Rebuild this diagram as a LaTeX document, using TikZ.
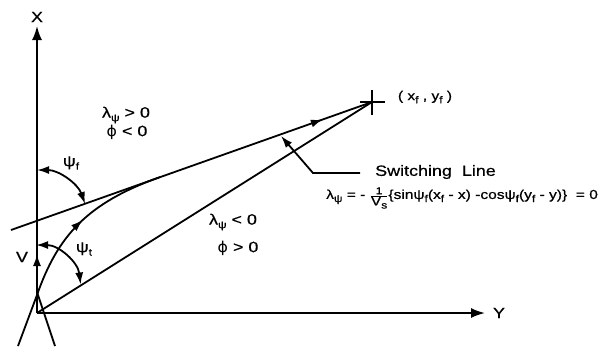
\documentclass[tikz,border=0pt]{standalone}
\usepackage{fontspec}
\setmainfont{Liberation Sans}[FakeStretch=1.2,FakeBold=0.6]
\newfontfamily\phifont{DejaVu Sans}[FakeStretch=1.05]
\usetikzlibrary{arrows.meta,decorations.markings}
\newcommand\sbs[1]{\raisebox{-0.45ex}{\fontsize{10}{10}\selectfont #1}}
\newcommand\myphi{{\phifont ϕ}}
\begin{document}
\begin{tikzpicture}[x=1bp,y=-1bp,
  ln/.style={line width=1.8bp},
  axis/.style={ln,-{Latex[length=14bp,width=10bp]}},
  tipone/.style={ln,-{Latex[length=12bp,width=8bp]}},
  tiptwo/.style={ln,{Latex[length=12bp,width=8bp]}-{Latex[length=12bp,width=8bp]}},
  midarrow/.style={postaction={decorate},decoration={markings,
     mark=at position #1 with {\arrow{Latex[length=12bp,width=8bp]}}}},
  lbl/.style={inner sep=0pt,font=\fontsize{15}{15}\selectfont},
  eqn/.style={inner sep=0pt,font=\fontsize{13}{13}\selectfont}]
\useasboundingbox (0,0) rectangle (615,346);
% coordinates
\coordinate (O) at (37,313);
\coordinate (Xtip) at (37,26);
\coordinate (Ytip) at (485,313);
\coordinate (F) at (372,102);
\coordinate (SL) at (11,230);
\coordinate (T) at (160,177.1);
\coordinate (S0) at (18,346);
\coordinate (S1) at (37,295);
\coordinate (Vb) at (37,268);
\coordinate (Vt) at (37,254);
\coordinate (Rb) at (55,346);
\coordinate (Ra) at (37,292);
\coordinate (PFs) at (37,170);
\coordinate (PTs) at (36,245);
\coordinate (L0) at (360,173);
\coordinate (L1) at (313,173);
\coordinate (L2) at (281,136);
\coordinate (Fa) at (360,102);
\coordinate (Fb) at (385,102);
\coordinate (Fc) at (372,90);
\coordinate (Fd) at (372,115);
% axes
\draw[axis] (O) -- (Xtip);
\draw[axis] (O) -- (Ytip);
\draw[tipone] (Vb) -- (Vt);
% lines to final point
\draw[ln] (O) -- (F);
\draw[ln,midarrow=0.864] (SL) -- (F);
\draw[ln] (Fa) -- (Fb);
\draw[ln] (Fc) -- (Fd);
% trajectory
\draw[ln] (S0) -- (S1);
\draw[ln,midarrow=0.5] (S1) .. controls (57.5,236.5) and (86.6,203.1) .. (T);
\draw[ln] (Rb) -- (Ra);
% angle arcs
\draw[tiptwo] (PFs) arc[start angle=-90,end angle=-19.5,radius=51];
\draw[tiptwo] (PTs) arc[start angle=-90,end angle=-7,radius=45];
% leader
\draw[tipone] (L0) -- (L1) -- (L2);
% labels
\node[lbl] (lx) at (37,17) {X};
\node[lbl] (ly) at (499,313) {Y};
\node[lbl] (lv) at (22,257) {V};
\node[lbl] (lpf) at (71,163) {ψ\sbs{f}};
\node[lbl] (lpt) at (84,249) {ψ\sbs{t}};
\node[lbl] (l1) at (126,115) {λ\sbs{ψ} > 0};
\node[lbl] (l2) at (127,132) {\myphi{} < 0};
\node[lbl] (l3) at (233,222) {λ\sbs{ψ} < 0};
\node[lbl] (l4) at (238,248) {\myphi{} > 0};
\node[eqn] (lf) at (425,97) {( x\sbs{f} , y\sbs{f} )};
\node[lbl,anchor=west] (lsw) at (375,172) {Switching\ \ Line};
\node[eqn,anchor=west] (leq) at (326,198) {λ\sbs{ψ} = - $\frac{\mbox{\fontsize{10}{10}\selectfont 1}}{\mbox{V\sbs{s}}}$\{sinψ\sbs{f}(x\sbs{f} - x) -cosψ\sbs{f}(y\sbs{f} - y)\}\ \ = 0};
\end{tikzpicture}
\end{document}
